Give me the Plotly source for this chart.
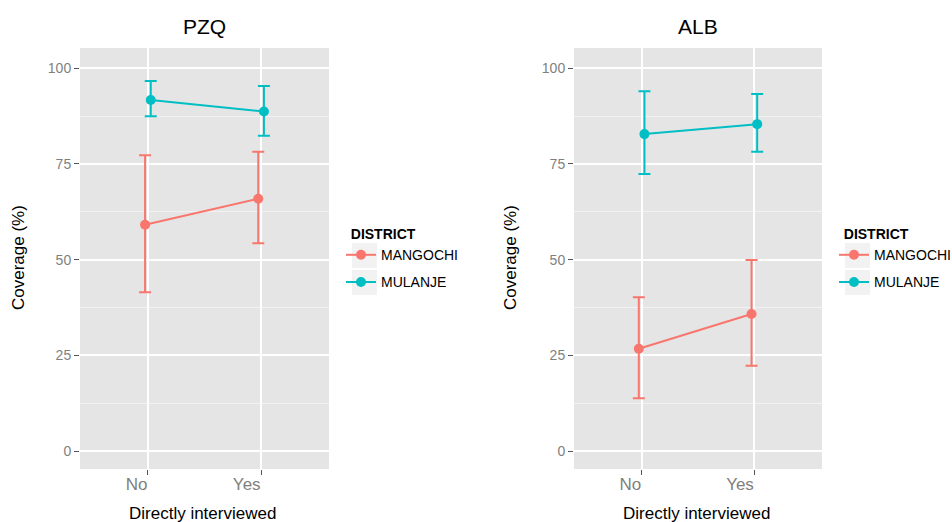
import plotly.graph_objects as go

# ---------------- data ----------------
categories = ["No", "Yes"]
districts = ["MANGOCHI", "MULANJE"]
panels = ["PZQ", "ALB"]

pzq_mangochi = [59.1, 65.9]
pzq_mangochi_lo = [41.5, 54.3]
pzq_mangochi_hi = [77.3, 78.2]
pzq_mulanje = [91.7, 88.7]
pzq_mulanje_lo = [87.5, 82.4]
pzq_mulanje_hi = [96.7, 95.4]

alb_mangochi = [26.7, 35.8]
alb_mangochi_lo = [13.8, 22.3]
alb_mangochi_hi = [40.2, 49.9]
alb_mulanje = [82.8, 85.4]
alb_mulanje_lo = [72.4, 78.2]
alb_mulanje_hi = [94.0, 93.3]

y_ticks = [0, 25, 50, 75, 100]
y_title = "Coverage (%)"
x_title = "Directly interviewed"
legend_title = "DISTRICT"

# ---------------- style ----------------
W, H = 952, 522
colors = {"MANGOCHI": "#F8766D", "MULANJE": "#00BFC4"}
dodge = {"MANGOCHI": -0.025, "MULANJE": 0.025}
FONT = "Liberation Sans, Arial, sans-serif"

panel_px = [(80, 329), (574, 822)]
plot_top, plot_bottom = 48, 469
legend_px = [341, 834]

data = {
    "PZQ": {
        "MANGOCHI": (pzq_mangochi, pzq_mangochi_lo, pzq_mangochi_hi),
        "MULANJE": (pzq_mulanje, pzq_mulanje_lo, pzq_mulanje_hi),
    },
    "ALB": {
        "MANGOCHI": (alb_mangochi, alb_mangochi_lo, alb_mangochi_hi),
        "MULANJE": (alb_mulanje, alb_mulanje_lo, alb_mulanje_hi),
    },
}

fig = go.Figure()
xpos = list(range(1, len(categories) + 1))

for pi, panel in enumerate(panels):
    xa = "x" if pi == 0 else "x2"
    ya = "y" if pi == 0 else "y2"
    leg = "legend" if pi == 0 else "legend2"
    for d in districts:
        mean, lo, hi = data[panel][d]
        fig.add_trace(go.Scatter(
            x=[p + dodge[d] for p in xpos],
            y=mean,
            mode="lines+markers",
            name=d,
            legend=leg,
            legendgroup=f"{panel}_{d}",
            line=dict(color=colors[d], width=2),
            marker=dict(color=colors[d], size=10),
            error_y=dict(
                type="data",
                symmetric=False,
                array=[h - m for h, m in zip(hi, mean)],
                arrayminus=[m - l for m, l in zip(mean, lo)],
                color=colors[d],
                thickness=2,
                width=6,
            ),
            xaxis=xa,
            yaxis=ya,
            hoverinfo="skip",
        ))

axis_common_x = dict(
    range=[0.4, 2.6],
    tickvals=xpos,
    ticktext=categories,
    ticks="outside",
    ticklen=5,
    tickwidth=1,
    tickcolor="#555555",
    ticklabelposition="outside left",
    tickfont=dict(size=17, color="#7F7F7F", family=FONT),
    showgrid=True,
    gridcolor="#FFFFFF",
    gridwidth=1.5,
    zeroline=False,
    showline=False,
    fixedrange=True,
)
axis_common_y = dict(
    range=[-4.7, 105.3],
    tickvals=y_ticks,
    ticks="outside",
    ticklen=5,
    tickwidth=1,
    tickcolor="#555555",
    tickfont=dict(size=14, color="#7F7F7F", family=FONT),
    showgrid=True,
    gridcolor="#FFFFFF",
    gridwidth=1.5,
    zeroline=False,
    showline=False,
    minor=dict(tick0=12.5, dtick=25, showgrid=True, gridcolor="#F2F2F2", gridwidth=0.7, ticks=""),
    fixedrange=True,
)

ydom = [1 - plot_bottom / H, 1 - plot_top / H]
fig.update_layout(
    xaxis=dict(axis_common_x, domain=[panel_px[0][0] / W, panel_px[0][1] / W], anchor="y"),
    yaxis=dict(axis_common_y, domain=ydom, anchor="x"),
    xaxis2=dict(axis_common_x, domain=[panel_px[1][0] / W, panel_px[1][1] / W], anchor="y2"),
    yaxis2=dict(axis_common_y, domain=ydom, anchor="x2"),
)

annotations = []
shapes = []
for pi, panel in enumerate(panels):
    x0, x1 = panel_px[pi]
    cx = (x0 + x1) / 2 / W
    annotations.append(dict(text=panel, x=cx, y=1 - 27 / H, xref="paper", yref="paper",
                            xanchor="center", yanchor="middle", showarrow=False,
                            font=dict(size=21, color="black", family=FONT)))
    annotations.append(dict(text=x_title, x=cx - 2 / W, y=1 - 502 / H, xref="paper", yref="paper",
                            xanchor="center", yanchor="top", showarrow=False,
                            font=dict(size=17, color="black", family=FONT)))
    ytx = [18, 510][pi]
    annotations.append(dict(text=y_title, x=ytx / W, y=1 - 258 / H, xref="paper", yref="paper",
                            xanchor="center", yanchor="middle", textangle=-90, showarrow=False,
                            font=dict(size=17, color="black", family=FONT)))
    # grey legend key backgrounds (ggplot legend.key)
    kx0 = x1 + 23
    for ky0, ky1 in [(243, 268), (270, 295)]:
        shapes.append(dict(type="rect", xref="paper", yref="paper",
                           x0=kx0 / W, x1=(kx0 + 25) / W, y0=1 - ky1 / H, y1=1 - ky0 / H,
                           fillcolor="#F2F2F2", line=dict(width=0), layer="below"))

fig.update_layout(annotations=annotations, shapes=shapes)

legend_common = dict(
    title=dict(text=f"&nbsp;&nbsp;<b>{legend_title}</b>", font=dict(size=14, color="black", family=FONT)),
    font=dict(size=14, color="black", family=FONT),
    bgcolor="rgba(0,0,0,0)",
    borderwidth=0,
    tracegroupgap=6,
    itemwidth=30,
    xanchor="left",
    yanchor="top",
    y=1 - 221 / H,
)

fig.update_layout(
    width=W, height=H,
    margin=dict(l=0, r=0, t=0, b=0, autoexpand=False),
    paper_bgcolor="white",
    plot_bgcolor="#E5E5E5",
    font=dict(family=FONT),
    showlegend=True,
    legend=dict(legend_common, x=legend_px[0] / W),
    legend2=dict(legend_common, x=legend_px[1] / W),
)

fig.write_html(
    "out.html",
    config={"displayModeBar": False},
    post_script="document.body.style.margin='0';document.body.style.overflow='hidden';",
)
